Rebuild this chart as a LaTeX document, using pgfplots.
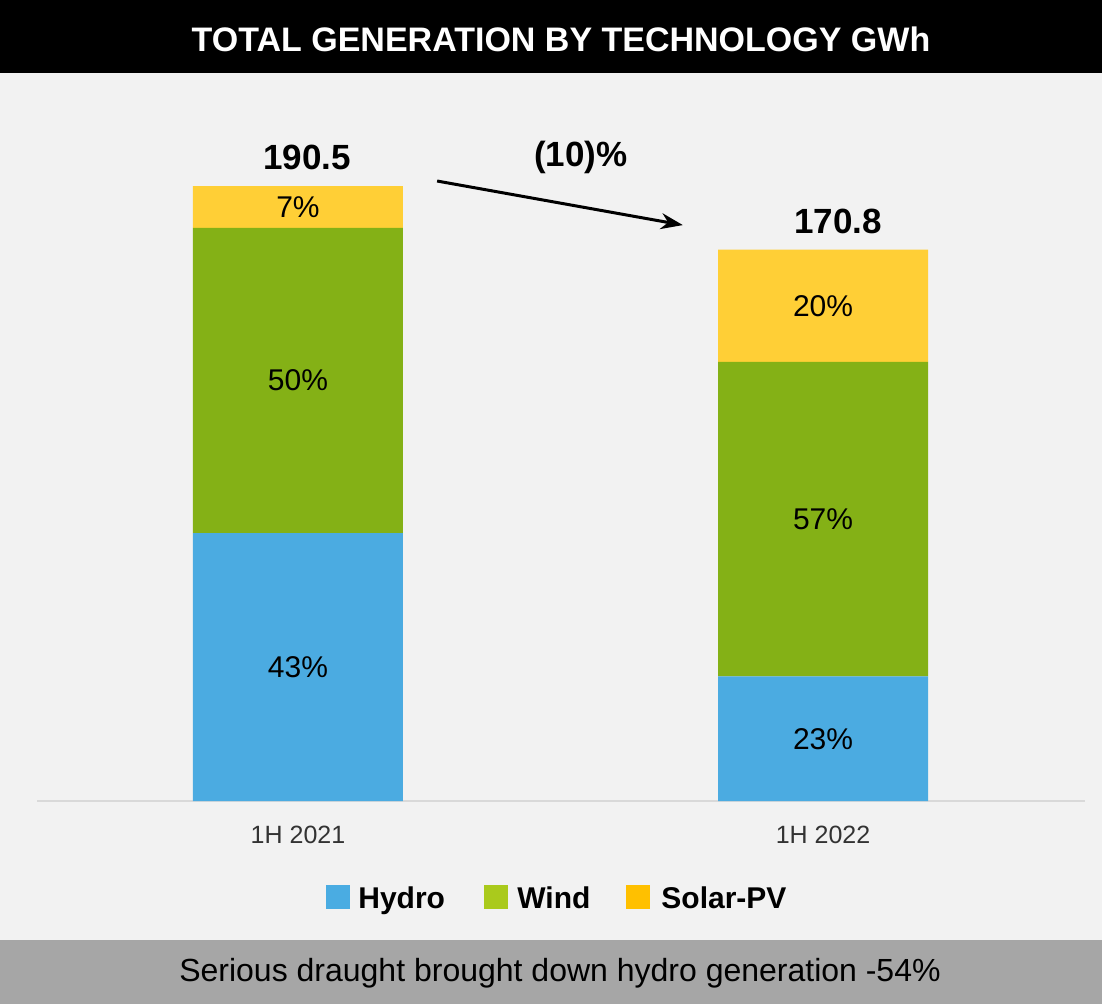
\documentclass[border=0pt]{standalone}
\usepackage{pgfplots}
\pgfplotsset{compat=1.18}
\usetikzlibrary{arrows.meta}
\usepackage{fontspec}
\setmainfont{Liberation Sans}
\definecolor{hydro}{HTML}{4BABE1}
\definecolor{wind}{HTML}{84B116}
\definecolor{solar}{HTML}{FFCF36}
\definecolor{lhydro}{HTML}{4AACE2}
\definecolor{lwind}{HTML}{AACA1C}
\definecolor{lsolar}{HTML}{FFC000}
\definecolor{bg}{HTML}{F2F2F2}
\definecolor{foot}{HTML}{A6A6A6}
\tikzset{pct/.style={font=\fontsize{15}{18}\selectfont}, tot/.style={font=\fontsize{17.5}{21}\selectfont\bfseries},
  leg/.style={anchor=base west, inner sep=0pt, font=\fontsize{15}{18}\selectfont\bfseries}}
\begin{document}
\begin{tikzpicture}
\begin{scope}[x=0.5pt,y=-0.5pt]
\fill[bg] (0,0) rectangle (1102,1004);
\fill[black] (0,0) rectangle (1102,73);
\fill[foot] (0,940) rectangle (1102,1004);
\node[text=white, font=\fontsize{17}{20}\selectfont\bfseries] at (561,39) {TOTAL GENERATION BY TECHNOLOGY GWh};
\node[font=\fontsize{16}{19}\selectfont] at (560,973) {Serious draught brought down hydro generation -54\%};
\fill[lhydro] (326,885) rectangle (350,909);
\node[leg] at (358,908) {Hydro};
\fill[lwind] (484,885) rectangle (508,909);
\node[leg] at (517,908) {Wind};
\fill[lsolar] (626,885) rectangle (650,909);
\node[leg] at (661,908) {Solar-PV};
\end{scope}
\begin{axis}[
  at={(18.5pt,-400.5pt)}, anchor=south west,
  scale only axis, width=524pt, height=355.1pt,
  xmin=-0.4971, xmax=1.499, ymin=0, ymax=220,
  axis x line=bottom, axis y line=none,
  x axis line style={-, draw=black!15, line width=1pt},
  xtick={0,1}, xticklabels={1H 2021,1H 2022},
  major tick length=0pt, ytick=\empty,
  xticklabel style={anchor=center, yshift=-17pt, font=\fontsize{12.5}{15}\selectfont, text=black!80},
  ybar stacked, bar width=105pt,
  clip=false,
]
\addplot[fill=hydro, draw=none] coordinates {(0,83.0) (1,38.6)};
\addplot[fill=wind, draw=none] coordinates {(0,94.5) (1,97.4)};
\addplot[fill=solar, draw=none] coordinates {(0,13.0) (1,34.8)};
\coordinate (a1) at (axis cs:0,41.5);
\coordinate (a2) at (axis cs:0,130.25);
\coordinate (a3) at (axis cs:0,184);
\coordinate (b1) at (axis cs:1,19.3);
\coordinate (b2) at (axis cs:1,87.3);
\coordinate (b3) at (axis cs:1,153.4);
\node[tot] at (axis cs:0.017,199.2) {190.5};
\node[tot] at (axis cs:1.029,179.4) {170.8};
\node[tot] at (axis cs:0.539,199.2) {(10)\%};
\draw[-{Stealth[length=11pt,width=8pt]}, line width=1.5pt] (axis cs:0.265,192.05) -- (axis cs:0.733,178.4);
\end{axis}
\node[pct] at (a1) {43\%};
\node[pct] at (a2) {50\%};
\node[pct] at (a3) {7\%};
\node[pct] at (b1) {23\%};
\node[pct] at (b2) {57\%};
\node[pct] at (b3) {20\%};
\end{tikzpicture}
\end{document}
